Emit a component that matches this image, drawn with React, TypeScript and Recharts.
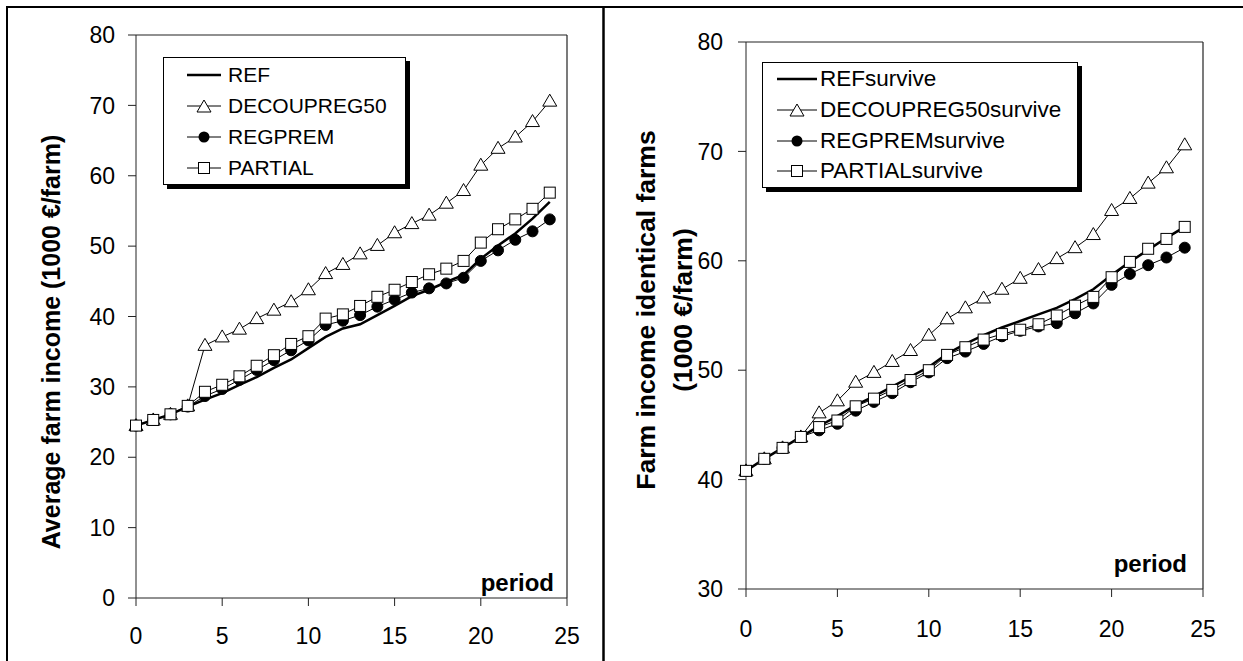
import React from 'react';
import { LineChart, Line, XAxis, YAxis, Legend, ReferenceLine } from 'recharts';

// periods 0..24
const periods = [0, 1, 2, 3, 4, 5, 6, 7, 8, 9, 10, 11, 12, 13, 14, 15, 16, 17, 18, 19, 20, 21, 22, 23, 24];

// left panel: average farm income (1000 €/farm)
const refAvg = [24.5, 25.3, 26.1, 27.2, 28.2, 29.1, 30.3, 31.4, 32.7, 33.9, 35.5, 37.1, 38.3, 38.9, 40.2, 41.5, 42.9, 43.8, 44.9, 45.9, 48.2, 50.1, 51.8, 53.9, 56.3];
const decoupAvg = [24.5, 25.3, 26.1, 27.3, 35.9, 37.1, 38.2, 39.7, 40.9, 42.1, 43.8, 46.1, 47.4, 48.9, 50.1, 51.9, 53.2, 54.4, 56.1, 57.9, 61.5, 63.9, 65.5, 67.7, 70.6];
const regpremAvg = [24.5, 25.3, 26.1, 27.2, 28.7, 29.7, 31.0, 32.4, 33.8, 35.2, 36.6, 38.8, 39.4, 40.2, 41.4, 42.4, 43.4, 44.0, 44.7, 45.5, 47.9, 49.4, 50.9, 52.1, 53.8];
const partialAvg = [24.5, 25.3, 26.1, 27.3, 29.3, 30.3, 31.5, 33.0, 34.5, 36.1, 37.2, 39.7, 40.3, 41.5, 42.8, 43.8, 44.9, 46.0, 46.8, 47.9, 50.5, 52.4, 53.8, 55.3, 57.6];

// right panel: farm income of identical (surviving) farms
const refSurv = [40.8, 41.9, 42.9, 43.9, 44.9, 45.8, 46.8, 47.6, 48.5, 49.4, 50.3, 51.5, 52.4, 53.2, 53.9, 54.5, 55.1, 55.7, 56.5, 57.4, 58.7, 59.9, 61.0, 62.1, 63.1];
const decoupSurv = [40.8, 41.9, 42.9, 43.9, 46.1, 47.2, 48.9, 49.8, 50.8, 51.8, 53.2, 54.7, 55.7, 56.6, 57.4, 58.4, 59.2, 60.2, 61.2, 62.4, 64.6, 65.7, 67.1, 68.5, 70.6];
const regpremSurv = [40.8, 41.9, 42.9, 43.9, 44.5, 45.1, 46.3, 47.1, 47.9, 48.9, 49.8, 51.1, 51.7, 52.4, 53.1, 53.6, 54.0, 54.3, 55.2, 56.1, 57.8, 58.8, 59.6, 60.3, 61.2];
const partialSurv = [40.8, 41.9, 42.9, 43.9, 44.8, 45.4, 46.7, 47.4, 48.2, 49.1, 50.0, 51.4, 52.1, 52.8, 53.3, 53.7, 54.2, 55.0, 55.9, 56.7, 58.5, 59.9, 61.1, 62.0, 63.1];

const leftNames = ['REF', 'DECOUPREG50', 'REGPREM', 'PARTIAL'];
const rightNames = ['REFsurvive', 'DECOUPREG50survive', 'REGPREMsurvive', 'PARTIALsurvive'];

const xTicks = [0, 5, 10, 15, 20, 25];
const leftYTicks = [0, 10, 20, 30, 40, 50, 60, 70, 80];
const rightYTicks = [30, 40, 50, 60, 70, 80];

const FONT = '"Liberation Sans", Arial, Helvetica, sans-serif';

const leftData = periods.map((p, i) => ({
  period: p,
  ref: refAvg[i],
  decoup: decoupAvg[i],
  regprem: regpremAvg[i],
  partial: partialAvg[i],
}));

const rightData = periods.map((p, i) => ({
  period: p,
  ref: refSurv[i],
  decoup: decoupSurv[i],
  regprem: regpremSurv[i],
  partial: partialSurv[i],
}));

const TriangleDot = (props: any) => {
  const { cx, cy, index } = props;
  if (cx == null || cy == null) return null;
  return (
    <polygon
      key={`tri-${index}`}
      points={`${cx},${cy - 7} ${cx - 7},${cy + 5} ${cx + 7},${cy + 5}`}
      fill="#fff"
      stroke="#000"
      strokeWidth={1}
    />
  );
};

const SquareDot = (props: any) => {
  const { cx, cy, index } = props;
  if (cx == null || cy == null) return null;
  return <rect key={`sq-${index}`} x={cx - 5.5} y={cy - 5.5} width={11} height={11} fill="#fff" stroke="#000" strokeWidth={1} />;
};

const CircleDot = (props: any) => {
  const { cx, cy, index } = props;
  if (cx == null || cy == null) return null;
  return <circle key={`ci-${index}`} cx={cx} cy={cy} r={5.5} fill="#000" stroke="#000" />;
};

const LegendIcon = ({ kind, w }: { kind: number; w: number }) => {
  const m = w / 2;
  return (
    <svg width={w} height={16} style={{ display: 'block', flex: 'none' }}>
      <line x1={0} y1={8} x2={w} y2={8} stroke="#000" strokeWidth={kind === 0 ? 2.5 : 1} />
      {kind === 1 && <polygon points={`${m},${2} ${m - 7},${14} ${m + 7},${14}`} fill="#fff" stroke="#000" />}
      {kind === 2 && <circle cx={m} cy={8} r={5.5} fill="#000" />}
      {kind === 3 && <rect x={m - 5.5} y={2.5} width={11} height={11} fill="#fff" stroke="#000" />}
    </svg>
  );
};

const makeLegend = (names: string[], fontSize: number, rowH: number, iconX: number, iconW: number, gap: number) => () => (
  <div
    style={{
      width: '100%',
      height: '100%',
      boxSizing: 'border-box',
      border: '1px solid #000',
      background: '#fff',
      boxShadow: '4px 4px 0 #000',
      paddingTop: 1,
      fontFamily: FONT,
      fontSize,
      color: '#000',
    }}
  >
    {names.map((n, i) => (
      <div key={n} style={{ display: 'flex', alignItems: 'center', height: rowH, paddingLeft: iconX }}>
        <LegendIcon kind={i} w={iconW} />
        <span style={{ marginLeft: gap, whiteSpace: 'nowrap' }}>{n}</span>
      </div>
    ))}
  </div>
);

const axisStroke = '#222';

const App: React.FC = () => {
  return (
    <div style={{ position: 'absolute', left: 0, top: 0, width: 1243, height: 661, background: '#fff', fontFamily: FONT }}>
      {/* left panel */}
      <div style={{ position: 'absolute', left: 0, top: 0 }}>
        <LineChart width={603} height={661} data={leftData} margin={{ top: 35, right: 36, bottom: 33, left: 76 }}>
          <XAxis
            dataKey="period"
            type="number"
            domain={[0, 25]}
            ticks={xTicks}
            height={30}
            tickSize={8}
            tickMargin={22}
            stroke={axisStroke}
            tick={{ fill: '#000', fontSize: 23, fontFamily: FONT }}
          />
          <YAxis
            type="number"
            domain={[0, 80]}
            ticks={leftYTicks}
            width={60}
            tickSize={8}
            tickMargin={13}
            stroke={axisStroke}
            tick={{ fill: '#000', fontSize: 23, fontFamily: FONT }}
          />
          <ReferenceLine y={80} stroke={axisStroke} strokeWidth={1.2} />
          <ReferenceLine x={25} stroke={axisStroke} strokeWidth={1.2} />
          <Line type="linear" dataKey="ref" stroke="#000" strokeWidth={2.5} dot={false} isAnimationActive={false} />
          <Line type="linear" dataKey="decoup" stroke="#000" strokeWidth={1} dot={TriangleDot} isAnimationActive={false} />
          <Line type="linear" dataKey="regprem" stroke="#000" strokeWidth={1} dot={CircleDot} isAnimationActive={false} />
          <Line type="linear" dataKey="partial" stroke="#000" strokeWidth={1} dot={SquareDot} isAnimationActive={false} />
          <Legend
            layout="horizontal"
            verticalAlign="middle"
            align="center"
            wrapperStyle={{ left: 163, top: 57, width: 243, height: 128 }}
            content={makeLegend(leftNames, 21, 31, 23, 34, 7)}
          />
        </LineChart>
      </div>

      {/* right panel */}
      <div style={{ position: 'absolute', left: 605, top: 0 }}>
        <LineChart width={638} height={661} data={rightData} margin={{ top: 42, right: 40, bottom: 42, left: 81 }}>
          <XAxis
            dataKey="period"
            type="number"
            domain={[0, 25]}
            ticks={xTicks}
            height={30}
            tickSize={8}
            tickMargin={24}
            stroke={axisStroke}
            tick={{ fill: '#000', fontSize: 23, fontFamily: FONT }}
          />
          <YAxis
            type="number"
            domain={[30, 80]}
            ticks={rightYTicks}
            width={60}
            tickSize={8}
            tickMargin={15}
            stroke={axisStroke}
            tick={{ fill: '#000', fontSize: 23, fontFamily: FONT }}
          />
          <ReferenceLine y={80} stroke={axisStroke} strokeWidth={1.2} />
          <ReferenceLine x={25} stroke={axisStroke} strokeWidth={1.2} />
          <Line type="linear" dataKey="ref" stroke="#000" strokeWidth={2.5} dot={false} isAnimationActive={false} />
          <Line type="linear" dataKey="decoup" stroke="#000" strokeWidth={1} dot={TriangleDot} isAnimationActive={false} />
          <Line type="linear" dataKey="regprem" stroke="#000" strokeWidth={1} dot={CircleDot} isAnimationActive={false} />
          <Line type="linear" dataKey="partial" stroke="#000" strokeWidth={1} dot={SquareDot} isAnimationActive={false} />
          <Legend
            layout="horizontal"
            verticalAlign="middle"
            align="center"
            wrapperStyle={{ left: 157, top: 62, width: 316, height: 126 }}
            content={makeLegend(rightNames, 22.5, 30.7, 14, 40, 3)}
          />
        </LineChart>
      </div>

      {/* frame, axis titles and "period" labels */}
      <svg width={1243} height={661} style={{ position: 'absolute', left: 0, top: 0, pointerEvents: 'none' }}>
        <line x1={7} y1={7} x2={1243} y2={7} stroke="#000" strokeWidth={2} />
        <line x1={7} y1={6} x2={7} y2={661} stroke="#000" strokeWidth={2} />
        <line x1={603.5} y1={6} x2={603.5} y2={661} stroke="#000" strokeWidth={2.5} />
        <text
          transform="translate(60,342) rotate(-90)"
          textAnchor="middle"
          fontFamily={FONT}
          fontWeight="bold"
          fontSize={25}
          fill="#000"
        >
          Average farm income (1000 €/farm)
        </text>
        <text transform="translate(655,310) rotate(-90)" textAnchor="middle" fontFamily={FONT} fontWeight="bold" fontSize={26.5} fill="#000">
          Farm income identical farms
        </text>
        <text transform="translate(692,310) rotate(-90)" textAnchor="middle" fontFamily={FONT} fontWeight="bold" fontSize={26.5} fill="#000">
          (1000 €/farm)
        </text>
        <text x={554} y={591} textAnchor="end" fontFamily={FONT} fontWeight="bold" fontSize={24} fill="#000">
          period
        </text>
        <text x={1187} y={572} textAnchor="end" fontFamily={FONT} fontWeight="bold" fontSize={24} fill="#000">
          period
        </text>
      </svg>
    </div>
  );
};

export default App;
